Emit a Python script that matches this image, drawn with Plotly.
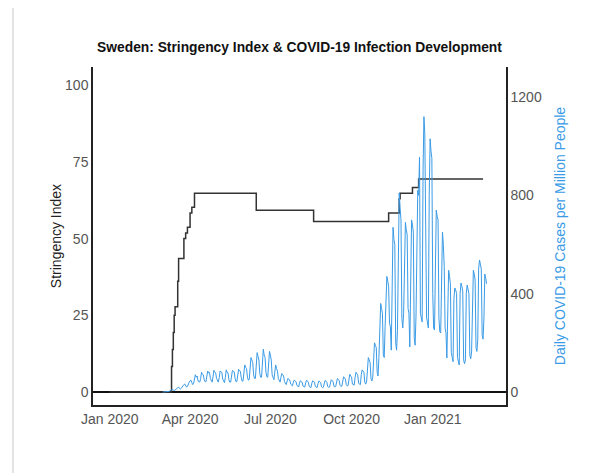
import plotly.graph_objects as go
import pandas as pd

# Stringency index (change points, step line)
stringency_dates = [
    "2020-01-01", "2020-03-10", "2020-03-11", "2020-03-12", "2020-03-13", "2020-03-14",
    "2020-03-15", "2020-03-18", "2020-03-19", "2020-03-25", "2020-03-27", "2020-03-29",
    "2020-04-01", "2020-04-03", "2020-04-06", "2020-06-15", "2020-08-19", "2020-11-12",
    "2020-11-24", "2020-11-25", "2020-12-09", "2020-12-16", "2021-02-27",
]
stringency_values = [
    0, 0, 8.33, 13.89, 19.44, 25.0,
    27.78, 36.11, 43.52, 50.0, 51.85, 53.7,
    58.33, 60.19, 64.81, 59.26, 55.56, 58.33,
    62.96, 64.81, 66.67, 69.44, 69.44,
]

# Daily new COVID-19 cases per million, starting 2020-03-01 (one row per week)
cases_start = "2020-03-01"
cases_values = [
    0, 0, 1, 1, 2, 3, 2,
    2, 4, 6, 8, 10, 8, 6,
    8, 12, 14, 18, 20, 15, 12,
    15, 20, 28, 30, 32, 25, 20,
    22, 35, 40, 45, 48, 38, 30,
    35, 50, 70, 60, 65, 45, 40,
    40, 55, 80, 72, 70, 50, 42,
    42, 60, 85, 78, 80, 55, 45,
    40, 62, 88, 80, 78, 55, 42,
    40, 58, 85, 82, 80, 52, 40,
    38, 60, 90, 80, 78, 50, 40,
    40, 62, 88, 84, 82, 55, 42,
    42, 65, 92, 86, 84, 58, 44,
    45, 80, 110, 100, 95, 60, 48,
    50, 95, 140, 130, 120, 70, 55,
    55, 110, 160, 145, 130, 75, 60,
    60, 120, 174, 150, 140, 80, 62,
    60, 115, 165, 150, 130, 70, 55,
    50, 80, 110, 95, 85, 55, 45,
    40, 60, 75, 70, 65, 42, 35,
    30, 45, 55, 50, 48, 32, 28,
    25, 40, 48, 45, 42, 28, 24,
    20, 36, 46, 42, 40, 24, 20,
    20, 38, 48, 44, 40, 22, 19,
    18, 36, 46, 42, 40, 22, 18,
    18, 34, 45, 42, 38, 21, 18,
    19, 36, 47, 44, 40, 22, 19,
    20, 38, 50, 46, 43, 24, 20,
    22, 42, 55, 50, 47, 27, 22,
    24, 48, 62, 58, 52, 30, 25,
    26, 55, 72, 65, 60, 32, 28,
    28, 60, 80, 74, 68, 35, 30,
    30, 70, 90, 85, 80, 40, 32,
    40, 110, 140, 130, 120, 55, 45,
    60, 170, 200, 190, 180, 80, 65,
    140, 290, 360, 340, 320, 150, 140,
    265, 420, 470, 450, 430, 280, 265,
    170, 520, 670, 620, 600, 200, 170,
    250, 650, 810, 750, 700, 300, 260,
    320, 600, 690, 660, 640, 340, 320,
    183, 560, 700, 680, 650, 220, 190,
    305, 700, 820, 800, 955, 320, 290,
    285, 900, 1120, 1050, 700, 300, 285,
    260, 800, 1030, 980, 950, 400, 260,
    252, 600, 740, 715, 700, 300, 245,
    240, 550, 650, 600, 510, 260, 240,
    138, 420, 495, 470, 440, 160, 140,
    123, 380, 423, 415, 400, 140, 125,
    110, 400, 443, 430, 410, 130, 115,
    130, 400, 435, 420, 400, 150, 135,
    163, 450, 495, 480, 455, 180, 165,
    212, 500, 537, 520, 500, 230, 215,
    300, 480, 464, 440,
]
cases_dates = pd.date_range(cases_start, periods=len(cases_values), freq="D")

x_tick_vals = ["2020-01-01", "2020-04-01", "2020-07-01", "2020-10-01", "2021-01-01"]
x_tick_text = ["Jan 2020", "Apr 2020", "Jul 2020", "Oct 2020", "Jan 2021"]
y1_ticks = [0, 25, 50, 75, 100]
y2_ticks = [0, 400, 800, 1200]

BLUE = "#3a9be6"
FONT = "Liberation Sans, Arial, sans-serif"

fig = go.Figure()
fig.add_trace(go.Scatter(
    x=cases_dates, y=cases_values, yaxis="y2", mode="lines",
    line=dict(color=BLUE, width=1), name="Cases", showlegend=False,
))
fig.add_trace(go.Scatter(
    x=stringency_dates, y=stringency_values, mode="lines",
    line=dict(color="#333333", width=1.5, shape="hv"), name="Stringency", showlegend=False,
))

OFF = 8  # page body margin
W, H = 597 - OFF, 473 - OFF
L, T = 93 - OFF, 67 - OFF
R = W - (506 - OFF)
B = H - (405 - OFF)
pw, ph = W - L - R, H - T - B

def px_x(v):
    return (v - OFF - L) / pw

def px_y(v):
    return (H - B - (v - OFF)) / ph

fig.update_layout(
    width=W, height=H,
    margin=dict(l=L, r=R, t=T, b=B, pad=0),
    paper_bgcolor="white", plot_bgcolor="white",
    font=dict(family=FONT, size=14, color="#555555"),
    title=dict(
        text="<b>Sweden: Stringency Index & COVID-19 Infection Development</b>",
        x=0.5, xref="paper", xanchor="center",
        y=1 - (47 - OFF) / H, yref="container", yanchor="middle",
        font=dict(family=FONT, size=13.8, color="#111111"),
    ),
    xaxis=dict(
        type="date", range=["2019-12-13", "2021-03-25"],
        tickvals=x_tick_vals, ticktext=x_tick_text,
        showgrid=False, zeroline=False, showline=True, linecolor="#222222", linewidth=1.5,
        ticks="", tickfont=dict(size=14, color="#555555"),
    ),
    yaxis=dict(
        range=[-4.2, 105.9], tickvals=y1_ticks,
        showgrid=False, zeroline=True, zerolinecolor="#111111", zerolinewidth=1.5,
        showline=True, linecolor="#222222", linewidth=1.5, ticks="",
        title=dict(text="Stringency Index", font=dict(size=14, color="#222222"), standoff=0),
        tickfont=dict(size=14, color="#555555"),
    ),
    yaxis2=dict(
        overlaying="y", side="right", range=[-53, 1322], tickvals=y2_ticks,
        showgrid=False, zeroline=False,
        showline=True, linecolor="#222222", linewidth=1.5, ticks="",
        title=dict(text="Daily COVID-19 Cases per Million People", font=dict(size=14, color=BLUE), standoff=14),
        tickfont=dict(size=14, color="#555555"),
    ),
    shapes=[dict(
        type="rect", xref="paper", yref="paper",
        x0=px_x(13), x1=px_x(596), y0=px_y(490), y1=px_y(7),
        line=dict(color="#e3e3e3", width=2), fillcolor="rgba(0,0,0,0)", layer="below",
    )],
)

fig.write_html("out.html")
